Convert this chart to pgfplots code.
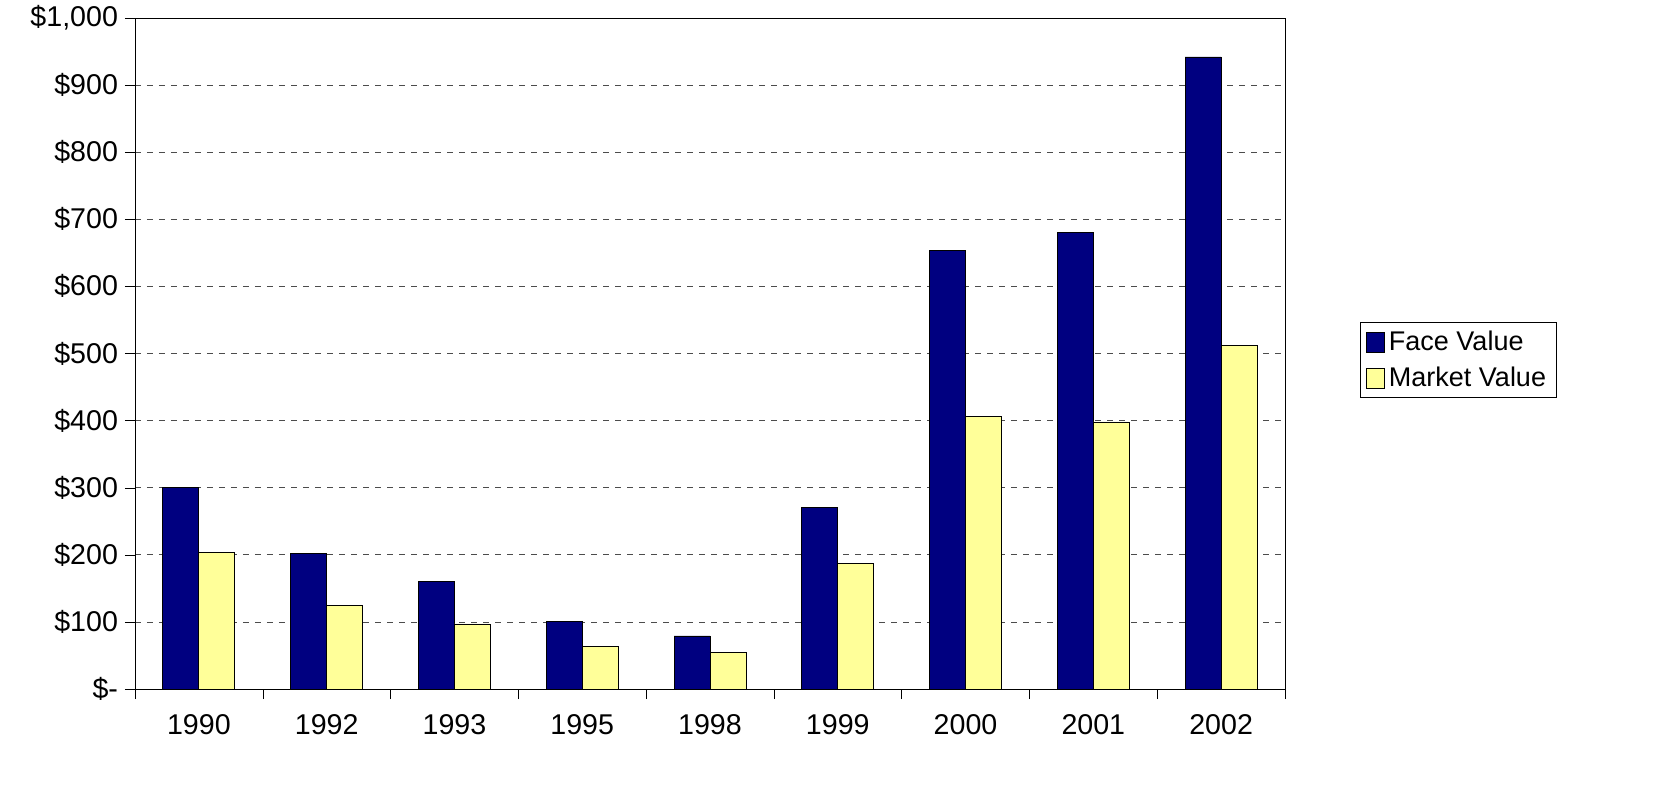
\documentclass[border=0pt]{standalone}
\usepackage{pgfplots}
\pgfplotsset{compat=1.18}
\usepackage{fontspec}
\setmainfont{Liberation Sans}
\definecolor{navyb}{HTML}{000080}
\definecolor{yel}{HTML}{FFFF99}
\begin{document}
\begin{tikzpicture}
\useasboundingbox (-67.5pt,-55pt) rectangle (762.5pt,344.5pt);
\begin{axis}[at={(0,0)},anchor=south west,
 scale only axis, width=575pt, height=335.5pt,
 ybar, bar width=18pt,
 xmin=-0.5, xmax=8.5, ymin=0, ymax=1000,
 xtick={-0.5,0.5,...,8.5}, x tick label as interval,
 xticklabels={1990,1992,1993,1995,1998,1999,2000,2001,2002},
 ytick={0,100,...,1000},
 yticklabels={\$-,\$100,\$200,\$300,\$400,\$500,\$600,\$700,\$800,\$900,{\$1,000}},
 tick align=outside, major tick length=5pt, tick style={black},
 xtick pos=bottom, ytick pos=left,
 ymajorgrids, grid style={dashed, black!70},
 axis line style={black},
 tick label style={font=\fontsize{14.3}{17}\selectfont},
 xticklabel style={yshift=-4pt},
 /pgf/number format/assume math mode=true,
 legend style={at={(1.065,0.49)}, anchor=west, font=\fontsize{13.5}{16}\selectfont, draw=black, row sep=3pt},
 legend cell align=left,
 legend image code/.code={\draw[#1] (0pt,-5pt) rectangle (9pt,5pt);},
]
\addplot[fill=navyb, draw=black, bar shift=-9pt] coordinates {(0,300) (1,202) (2,160) (3,101) (4,79) (5,270) (6,653) (7,681) (8,942)};
\addplot[fill=yel, draw=black, bar shift=9pt] coordinates {(0,203) (1,124) (2,97) (3,64) (4,54) (5,187) (6,406) (7,398) (8,512)};
\legend{Face Value, Market Value}
\end{axis}
\end{tikzpicture}
\end{document}
